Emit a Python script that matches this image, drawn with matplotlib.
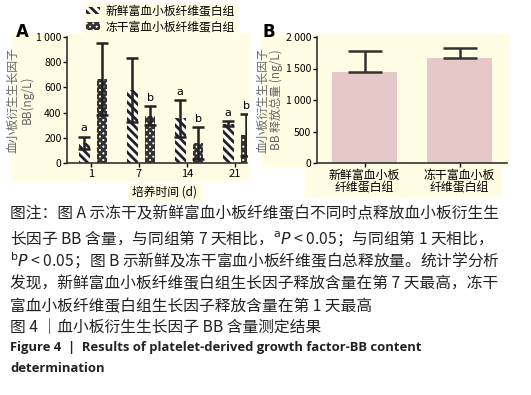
import numpy as np
import matplotlib
matplotlib.use('Agg')
from matplotlib import pyplot as plt
from matplotlib.patches import Rectangle, Patch

plt.rcParams['font.family'] = ['Noto Sans CJK SC', 'DejaVu Sans']
plt.rcParams['hatch.linewidth'] = 2.0
plt.rcParams['axes.unicode_minus'] = False

# panel A data
days = ['1', '7', '14', '21']
fresh_mean = [160, 580, 355, 310]
fresh_sd = [50, 255, 145, 20]
frozen_mean = [665, 375, 160, 220]
frozen_sd = [285, 75, 125, 165]
fresh_sig = ['a', '', 'a', 'a']
frozen_sig = ['', 'b', 'b', 'b']
series_names = ['新鲜富血小板纤维蛋白组', '冻干富血小板纤维蛋白组']

# panel B data
groups_b = ['新鲜富血小板\n纤维蛋白组', '冻干富血小板\n纤维蛋白组']
total_mean = [1450, 1670]
total_sd = [320, 160]

W, H = 531, 395
bg = '#fffde3'
fig = plt.figure(figsize=(W / 100, H / 100), dpi=100)


def box(x0, y0, x1, y1):
    # pixel coords (top-left origin) -> figure rect
    fig.patches.append(Rectangle((x0 / W, 1 - y1 / H), (x1 - x0) / W, (y1 - y0) / H,
                                 transform=fig.transFigure, color=bg, zorder=-5))


box(12, 34, 248, 180)
box(128, 184, 202, 200)
box(262, 34, 508, 166)
box(305, 166, 410, 196)
box(400, 166, 500, 196)

axA = fig.add_axes([67 / W, 1 - 163 / H, 180 / W, 126 / H])
axB = fig.add_axes([317 / W, 1 - 163 / H, 190 / W, 126 / H])
axA.set_zorder(2)
axB.set_zorder(2)

x = np.arange(len(days))
w = 0.22
hatch_fresh = '\\\\\\\\'
hatch_frozen = 'xxxxx'
ekw = dict(ecolor='#222222', elinewidth=1.8, capsize=4.5, capthick=1.8)
axA.bar(x - 0.14, fresh_mean, w, color='white', edgecolor='#222222', hatch=hatch_fresh,
        linewidth=0, yerr=fresh_sd, error_kw=ekw, label=series_names[0])
axA.bar(x + 0.23, frozen_mean, w, color='white', edgecolor='#333333', hatch=hatch_frozen,
        linewidth=0, yerr=frozen_sd, error_kw=ekw, label=series_names[1])
for i in range(len(days)):
    if fresh_sig[i]:
        axA.text(x[i] - 0.14, fresh_mean[i] + fresh_sd[i] + 25, fresh_sig[i],
                 ha='center', va='bottom', fontsize=8, family='DejaVu Sans')
    if frozen_sig[i]:
        axA.text(x[i] + 0.23, frozen_mean[i] + frozen_sd[i] + 25, frozen_sig[i],
                 ha='center', va='bottom', fontsize=8, family='DejaVu Sans')
axA.set_xlim(-0.5, 3.25)
axA.set_ylim(0, 1000)
axA.set_xticks(x)
axA.set_xticklabels(days, fontsize=8)
axA.set_yticks([0, 200, 400, 600, 800, 1000])
axA.set_yticklabels(['0', '200', '400', '600', '800', '1 000'], fontsize=7.5)
axA.set_ylabel('血小板衍生生长因子\nBB(ng/L)', fontsize=8.5, color='#666666', labelpad=2,
               linespacing=1.05)
fig.text(165 / W, 1 - 192 / H, '培养时间 (d)', ha='center', va='center', fontsize=8.5)

xb = np.arange(len(groups_b))
axB.bar(xb, total_mean, 0.68, color='#e6c8c8', yerr=[np.zeros(2), total_sd],
        error_kw=dict(ecolor='#333333', elinewidth=1.8, capsize=12, capthick=1.8))
axB.set_xlim(-0.5, 1.5)
axB.set_ylim(0, 2000)
axB.set_xticks(xb)
axB.set_xticklabels(groups_b, fontsize=8.6, linespacing=0.95)
axB.set_yticks([0, 500, 1000, 1500, 2000])
axB.set_yticklabels(['0', '500', '1 000', '1 500', '2 000'], fontsize=7.5)
axB.set_ylabel('血小板衍生生长因子\nBB 释放总量 (ng/L)', fontsize=8.5, color='#666666',
               labelpad=2, linespacing=1.05)

for ax in (axA, axB):
    ax.set_facecolor(bg)
    ax.spines['top'].set_visible(False)
    ax.spines['right'].set_visible(False)
    ax.spines['left'].set_color('#333333')
    ax.spines['bottom'].set_color('#333333')
    ax.spines['left'].set_linewidth(1.2)
    ax.spines['bottom'].set_linewidth(1.2)
    ax.tick_params(length=3, width=1, pad=1)

fig.text(22 / W, 1 - 32 / H, 'A', fontsize=12, fontweight='bold', family='DejaVu Sans',
         ha='center', va='center')
fig.text(269 / W, 1 - 32 / H, 'B', fontsize=12, fontweight='bold', family='DejaVu Sans',
         ha='center', va='center')

handles = [Patch(facecolor='white', edgecolor='#222222', hatch=hatch_fresh, linewidth=0),
           Patch(facecolor='white', edgecolor='#333333', hatch=hatch_frozen, linewidth=0)]
leg = fig.legend(handles, series_names, loc='upper left', bbox_to_anchor=(84 / W, 1 - 3 / H),
                 fontsize=8.5, frameon=True, facecolor=bg, edgecolor=bg, framealpha=1,
                 handlelength=1.2, handleheight=0.55, handletextpad=0.5, labelspacing=0.2,
                 borderpad=0.15, borderaxespad=0)

caption = [
    '图注：图 A 示冻干及新鲜富血小板纤维蛋白不同时点释放血小板衍生生',
    r'长因子 BB 含量，与同组第 7 天相比，$^{\mathrm{a}}\it{P}$ < 0.05；与同组第 1 天相比，',
    r'$^{\mathrm{b}}\it{P}$ < 0.05；图 B 示新鲜及冻干富血小板纤维蛋白总释放量。统计学分析',
    '发现，新鲜富血小板纤维蛋白组生长因子释放含量在第 7 天最高，冻干',
    '富血小板纤维蛋白组生长因子释放含量在第 1 天最高',
]
cy = [214, 238, 261, 284, 307]
for t, yy in zip(caption, cy):
    fig.text(10 / W, 1 - yy / H, t, fontsize=11.3, va='center', ha='left', color='#222222')
fig.text(10 / W, 1 - 327 / H, '图 4 ｜血小板衍生生长因子 BB 含量测定结果', fontsize=11.3,
         va='center', ha='left', color='#222222')
fig.text(10 / W, 1 - 348 / H, 'Figure 4  |  Results of platelet-derived growth factor-BB content',
         fontsize=9.4, fontweight='bold', family='Open Sans', va='center', ha='left',
         color='#222222')
fig.text(10 / W, 1 - 368 / H, 'determination', fontsize=9.4, fontweight='bold',
         family='Open Sans', va='center', ha='left', color='#222222')

fig.savefig('out.png', dpi=100, facecolor='white')
